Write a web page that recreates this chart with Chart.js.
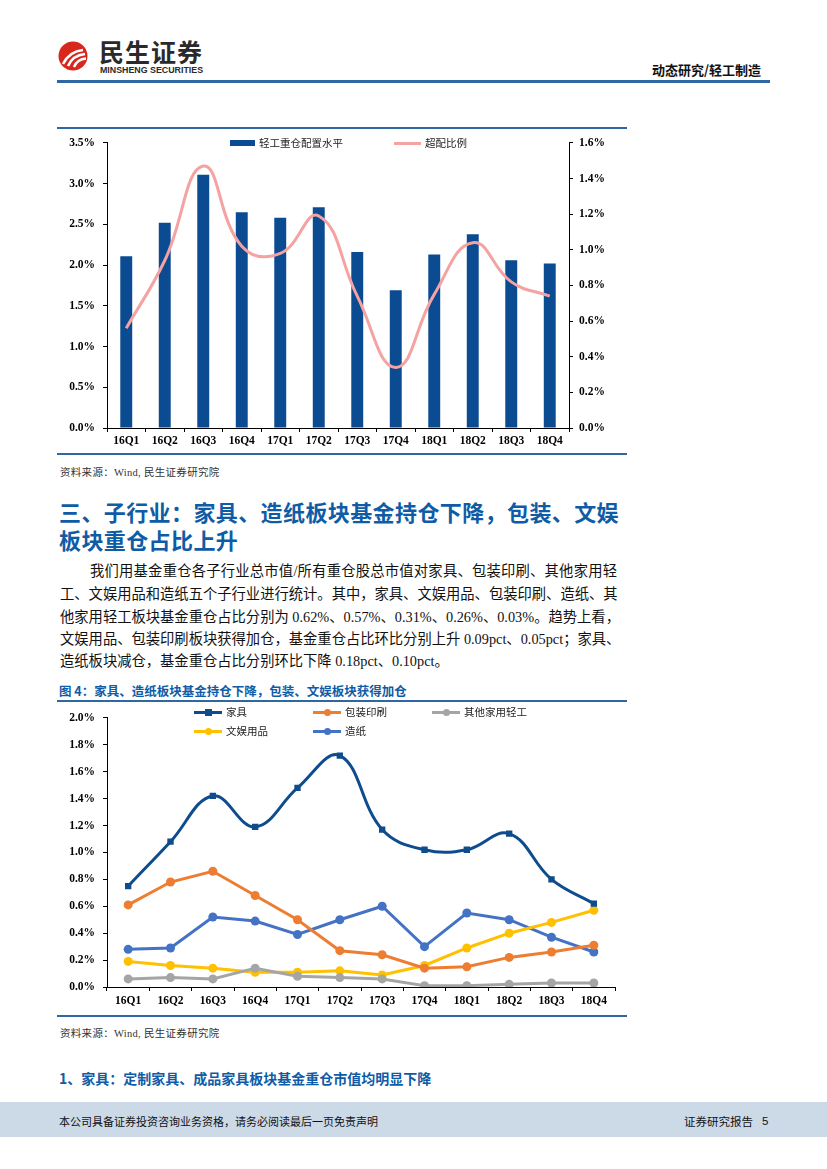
<!DOCTYPE html>
<html><head><meta charset="utf-8">
<script src="https://cdn.jsdelivr.net/npm/chart.js@4.4.1/dist/chart.umd.min.js"></script>
<style>
html,body{margin:0;padding:0;background:#fff;}
body{width:827px;height:1169px;position:relative;overflow:hidden;font-family:"Liberation Serif","Noto Sans CJK SC",serif;color:#000;}
.abs{position:absolute;white-space:nowrap;}
.hline{position:absolute;background:#2D68A3;}
.src{font-size:10.5px;color:#333;letter-spacing:0.3px;}
.para div{position:absolute;left:60px;width:557px;font-size:14.3px;text-align:justify;text-align-last:justify;white-space:nowrap;line-height:20px;color:#111;}
.lg{position:absolute;font-family:"Noto Sans CJK SC",sans-serif;font-size:10.5px;color:#222;white-space:nowrap;line-height:14px;}
</style></head>
<body>
<!-- header -->
<svg class="abs" style="left:58px;top:41px" width="30" height="30" viewBox="0 0 30 30">
  <circle cx="15" cy="15" r="14.5" fill="#D8281E"/>
  <path d="M5 23 C9 15 15 10 25 9" stroke="#fff" stroke-width="2.6" fill="none"/>
  <path d="M10 25 C13 18 18 14 27 13" stroke="#fff" stroke-width="2.6" fill="none"/>
  <path d="M16 26 C18 21 21 18 28 17.5" stroke="#fff" stroke-width="2.4" fill="none"/>
</svg>
<div class="abs" style="left:99px;top:36px;font-family:'Noto Sans CJK SC';font-weight:700;font-size:25px;color:#2a2a2a;letter-spacing:1px;line-height:30px">民生证券</div>
<div class="abs" style="left:100px;top:65px;font-family:'Liberation Sans';font-weight:700;font-size:9.3px;color:#2a2a2a;line-height:10px;transform:scaleX(0.95);transform-origin:left">MINSHENG SECURITIES</div>
<div class="abs" style="left:652px;top:61px;font-family:'Noto Sans CJK SC';font-weight:700;font-size:13px;line-height:18px;color:#111">动态研究/轻工制造</div>
<div class="hline" style="left:57px;top:80px;width:713px;height:2.5px"></div>

<!-- chart 1 -->
<div class="hline" style="left:57px;top:127px;width:570px;height:2px"></div>
<div style="position:absolute;left:57px;top:128px;width:570px;height:326px"><canvas id="c1"></canvas></div>
<div id="lg1"></div>
<div class="hline" style="left:57px;top:453px;width:570px;height:2px"></div>
<div class="abs src" style="left:60px;top:464px">资料来源：Wind, 民生证券研究院</div>

<!-- heading -->
<div class="abs" style="left:59px;top:496px;font-family:'Noto Sans CJK SC';font-weight:700;font-size:22px;line-height:30px;color:#0F5CA6;letter-spacing:0.4px">三、子行业：家具、造纸板块基金持仓下降，包装、文娱</div>
<div class="abs" style="left:59px;top:524px;font-family:'Noto Sans CJK SC';font-weight:700;font-size:22px;line-height:30px;color:#0F5CA6;letter-spacing:0.4px">板块重仓占比上升</div>

<div class="para">
<div style="top:561px;left:90px;width:527px">我们用基金重仓各子行业总市值/所有重仓股总市值对家具、包装印刷、其他家用轻</div>
<div style="top:584px">工、文娱用品和造纸五个子行业进行统计。其中，家具、文娱用品、包装印刷、造纸、其</div>
<div style="top:607px">他家用轻工板块基金重仓占比分别为 0.62%、0.57%、0.31%、0.26%、0.03%。趋势上看，</div>
<div style="top:629px">文娱用品、包装印刷板块获得加仓，基金重仓占比环比分别上升 0.09pct、0.05pct；家具、</div>
<div style="top:651px;text-align-last:left;width:auto">造纸板块减仓，基金重仓占比分别环比下降 0.18pct、0.10pct。</div>
</div>

<!-- chart 2 -->
<div class="abs" style="left:59px;top:682px;font-family:'Noto Sans CJK SC';font-weight:700;font-size:12.5px;line-height:17px;color:#0F5CA6">图 4：家具、造纸板块基金持仓下降，包装、文娱板块获得加仓</div>
<div class="hline" style="left:57px;top:700px;width:570px;height:2px"></div>
<div style="position:absolute;left:57px;top:703px;width:570px;height:312px"><canvas id="c2"></canvas></div>
<div id="lg2"></div>
<div class="hline" style="left:57px;top:1015px;width:570px;height:2px"></div>
<div class="abs src" style="left:60px;top:1025px">资料来源：Wind, 民生证券研究院</div>

<div class="abs" style="left:59px;top:1068px;font-family:'Noto Sans CJK SC';font-weight:700;font-size:14px;line-height:20px;color:#0F5CA6">1、家具：定制家具、成品家具板块基金重仓市值均明显下降</div>

<!-- footer -->
<div style="position:absolute;left:0;top:1102px;width:827px;height:35px;background:#CCDAE8"></div>
<div class="abs" style="left:59px;top:1112px;font-family:'Noto Sans CJK SC';font-size:11px;line-height:18px;color:#111">本公司具备证券投资咨询业务资格，请务必阅读最后一页免责声明</div>
<div class="abs" style="left:684px;top:1112px;font-family:'Noto Sans CJK SC';font-size:11.5px;line-height:18px;color:#111">证券研究报告</div>
<div class="abs" style="left:762px;top:1112px;font-family:'Liberation Sans';font-size:11.5px;line-height:18px;color:#111">5</div>

<script>
// ---- data ----
const quarters = ['16Q1','16Q2','16Q3','16Q4','17Q1','17Q2','17Q3','17Q4','18Q1','18Q2','18Q3','18Q4'];
const heavyLevel = [2.11, 2.52, 3.11, 2.65, 2.58, 2.71, 2.16, 1.69, 2.13, 2.38, 2.06, 2.02];
const overRatio  = [0.56, 0.94, 1.47, 1.02, 0.98, 1.19, 0.74, 0.34, 0.75, 1.04, 0.82, 0.74];
const furniture  = [0.75, 1.08, 1.42, 1.19, 1.48, 1.72, 1.17, 1.02, 1.02, 1.14, 0.80, 0.62];
const packaging  = [0.61, 0.78, 0.86, 0.68, 0.50, 0.27, 0.24, 0.14, 0.15, 0.22, 0.26, 0.31];
const otherHome  = [0.06, 0.07, 0.06, 0.14, 0.08, 0.07, 0.06, 0.01, 0.01, 0.02, 0.03, 0.03];
const stationery = [0.19, 0.16, 0.14, 0.11, 0.11, 0.12, 0.09, 0.16, 0.29, 0.40, 0.48, 0.57];
const paper      = [0.28, 0.29, 0.52, 0.49, 0.39, 0.50, 0.60, 0.30, 0.55, 0.50, 0.37, 0.26];

const tickFont = {family:'Liberation Serif', size:11.5, weight:'bold'};
const pct = v => Number(v).toFixed(1) + '%';
function fixW(w){ return s => { s.width = w; }; }
function fixH(h){ return s => { s.height = h; }; }
const axisGrid = {display:true, drawOnChartArea:false, drawTicks:true, tickLength:4, color:'#000', lineWidth:1};
const axisBorder = {display:true, color:'#000', width:1};

new Chart(document.getElementById('c1'), {
  data: {
    labels: quarters,
    datasets: [
      {type:'line', label:'超配比例', data: overRatio, yAxisID:'y1', borderColor:'#F4A2A2', backgroundColor:'#F4A2A2', borderWidth:3, pointRadius:0, tension:0.45, order:0},
      {type:'bar', label:'轻工重仓配置水平', data: heavyLevel, yAxisID:'y', backgroundColor:'#0A4B91', barPercentage:0.31, categoryPercentage:1, order:1}
    ]
  },
  options: {
    responsive:true, maintainAspectRatio:false, animation:false,
    layout:{padding:{top:11, left:0, right:0, bottom:0}},
    plugins:{legend:{display:false}, tooltip:{enabled:false}},
    scales:{
      x:{offset:true, grid:{...axisGrid, offset:true}, border:axisBorder, ticks:{font:tickFont, color:'#000', padding:2, maxRotation:0}, afterFit:fixH(26)},
      y:{position:'left', min:0, max:3.5, grid:axisGrid, border:axisBorder, ticks:{stepSize:0.5, font:tickFont, color:'#000', padding:8, callback:pct}, afterFit:fixW(50)},
      y1:{position:'right', min:0, max:1.6, grid:axisGrid, border:axisBorder, ticks:{stepSize:0.2, font:tickFont, color:'#000', padding:6, callback:pct}, afterFit:fixW(58)}
    }
  }
});

const series2 = [
  {label:'家具', data:furniture, color:'#0E4C8D', style:'rect', tension:0.4},
  {label:'包装印刷', data:packaging, color:'#ED7D31', style:'circle', tension:0},
  {label:'其他家用轻工', data:otherHome, color:'#A5A5A5', style:'circle', tension:0},
  {label:'文娱用品', data:stationery, color:'#FFC000', style:'circle', tension:0},
  {label:'造纸', data:paper, color:'#4472C4', style:'circle', tension:0}
];

new Chart(document.getElementById('c2'), {
  type:'line',
  data:{
    labels: quarters,
    datasets: series2.map((s,i)=>({label:s.label, data:s.data, borderColor:s.color, backgroundColor:s.color, borderWidth:3, pointStyle:s.style, pointRadius:4.5, pointBorderWidth:0, tension:s.tension, order:i}))
  },
  options:{
    responsive:true, maintainAspectRatio:false, animation:false,
    layout:{padding:{top:14, right:12, left:0, bottom:0}},
    plugins:{legend:{display:false}, tooltip:{enabled:false}},
    scales:{
      x:{offset:true, grid:{...axisGrid, offset:true}, border:axisBorder, ticks:{font:tickFont, color:'#000', padding:3, maxRotation:0}, afterFit:fixH(28)},
      y:{min:0, max:2.0, grid:axisGrid, border:axisBorder, ticks:{stepSize:0.2, font:tickFont, color:'#000', padding:8, callback:pct}, afterFit:fixW(50)}
    }
  }
});

// ---- legends (HTML, positioned inside plot areas) ----
function addLegend(containerId, items){
  const c = document.getElementById(containerId);
  items.forEach(it=>{
    const sw = document.createElement('div');
    sw.style.cssText = `position:absolute;left:${it.x}px;top:${it.y - it.h/2}px;width:${it.w}px;height:${it.h}px;background:${it.color}`;
    c.appendChild(sw);
    if (it.marker){
      const m = document.createElement('div');
      const r = 7;
      m.style.cssText = `position:absolute;left:${it.x + it.w/2 - r/2}px;top:${it.y - r/2}px;width:${r}px;height:${r}px;background:${it.color};border-radius:${it.marker==='circle'?'50%':'0'}`;
      c.appendChild(m);
    }
    const t = document.createElement('div');
    t.className = 'lg';
    t.textContent = it.label;
    t.style.left = (it.x + it.w + 4) + 'px';
    t.style.top = (it.y - 7) + 'px';
    c.appendChild(t);
  });
}
addLegend('lg1', [
  {label:'轻工重仓配置水平', color:'#0A4B91', x:230, y:143, w:25, h:6},
  {label:'超配比例', color:'#F4A2A2', x:394, y:143, w:27, h:3}
]);
const lgPos = [[194,712],[313,712],[432,712],[194,731],[313,731]];
addLegend('lg2', series2.map((s,i)=>({label:s.label, color:s.color, x:lgPos[i][0], y:lgPos[i][1], w:28, h:3, marker:s.style})));
</script>
</body></html>
